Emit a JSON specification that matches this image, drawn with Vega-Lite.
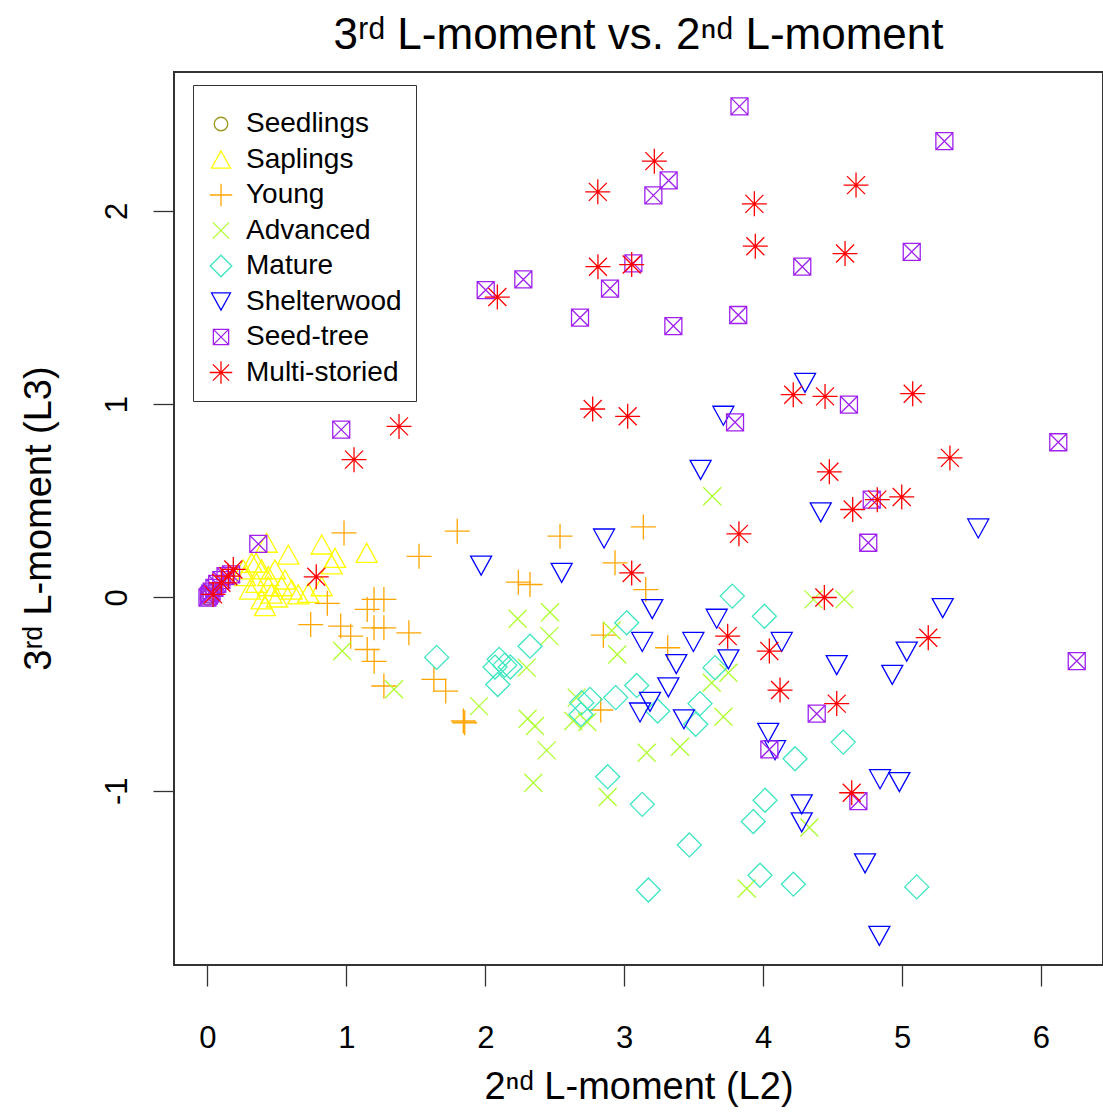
{
  "$schema": "https://vega.github.io/schema/vega-lite/v6.json",
  "width": 929,
  "height": 893,
  "autosize": "none",
  "padding": {"left": 174, "top": 72, "right": 0, "bottom": 150},
  "background": "white",
  "title": {"text": "3ʳᵈ L-moment vs. 2ⁿᵈ L-moment", "fontSize": 44, "font": "Liberation Sans", "fontWeight": "normal", "anchor": "middle", "offset": 14, "color": "black"},
  "config": {
    "view": {"stroke": "#333333", "strokeWidth": 2},
    "font": "Liberation Sans",
    "legend": {"strokeColor": "#333333", "fillColor": "white", "padding": 14, "symbolSize": 324, "symbolStrokeWidth": 1.3, "labelFontSize": 28, "labelColor": "black", "labelOffset": 11, "rowPadding": 7.5, "labelFont": "Liberation Sans", "titleFontSize": 1, "titlePadding": 10}
  },
  "datasets": {
    "pts": [
      {"g": "Seedlings", "x": 0.0, "y": 0.0},
      {"g": "Seedlings", "x": 0.02, "y": 0.01},
      {"g": "Seedlings", "x": 0.04, "y": 0.03},
      {"g": "Saplings", "x": 0.426, "y": 0.283},
      {"g": "Saplings", "x": 0.582, "y": 0.222},
      {"g": "Saplings", "x": 0.822, "y": 0.274},
      {"g": "Saplings", "x": 1.146, "y": 0.231},
      {"g": "Saplings", "x": 0.918, "y": 0.205},
      {"g": "Saplings", "x": 0.894, "y": 0.171},
      {"g": "Saplings", "x": 0.318, "y": 0.179},
      {"g": "Saplings", "x": 0.39, "y": 0.145},
      {"g": "Saplings", "x": 0.486, "y": 0.145},
      {"g": "Saplings", "x": 0.438, "y": 0.11},
      {"g": "Saplings", "x": 0.558, "y": 0.093},
      {"g": "Saplings", "x": 0.354, "y": 0.076},
      {"g": "Saplings", "x": 0.438, "y": 0.058},
      {"g": "Saplings", "x": 0.534, "y": 0.058},
      {"g": "Saplings", "x": 0.606, "y": 0.041},
      {"g": "Saplings", "x": 0.654, "y": 0.016},
      {"g": "Saplings", "x": 0.39, "y": -0.01},
      {"g": "Saplings", "x": 0.414, "y": -0.045},
      {"g": "Saplings", "x": 0.726, "y": 0.024},
      {"g": "Saplings", "x": 0.822, "y": 0.058},
      {"g": "Saplings", "x": 0.27, "y": 0.11},
      {"g": "Saplings", "x": 0.306, "y": 0.041},
      {"g": "Saplings", "x": 0.258, "y": 0.145},
      {"g": "Saplings", "x": 0.5, "y": 0.0},
      {"g": "Saplings", "x": 0.46, "y": 0.02},
      {"g": "Saplings", "x": 0.35, "y": 0.18},
      {"g": "Young", "x": 0.983, "y": 0.334},
      {"g": "Young", "x": 1.798, "y": 0.343},
      {"g": "Young", "x": 1.523, "y": 0.213},
      {"g": "Young", "x": 0.863, "y": -0.03},
      {"g": "Young", "x": 0.743, "y": -0.14},
      {"g": "Young", "x": 0.959, "y": -0.148},
      {"g": "Young", "x": 1.031, "y": -0.2},
      {"g": "Young", "x": 1.15, "y": -0.062},
      {"g": "Young", "x": 1.199, "y": -0.01},
      {"g": "Young", "x": 1.27, "y": -0.01},
      {"g": "Young", "x": 1.199, "y": -0.157},
      {"g": "Young", "x": 1.27, "y": -0.157},
      {"g": "Young", "x": 1.45, "y": -0.183},
      {"g": "Young", "x": 1.15, "y": -0.269},
      {"g": "Young", "x": 1.2, "y": -0.33},
      {"g": "Young", "x": 1.27, "y": -0.458},
      {"g": "Young", "x": 1.63, "y": -0.424},
      {"g": "Young", "x": 1.715, "y": -0.484},
      {"g": "Young", "x": 1.842, "y": -0.639},
      {"g": "Young", "x": 1.852, "y": -0.648},
      {"g": "Young", "x": 2.538, "y": 0.317},
      {"g": "Young", "x": 3.138, "y": 0.365},
      {"g": "Young", "x": 2.934, "y": 0.179},
      {"g": "Young", "x": 2.238, "y": 0.079},
      {"g": "Young", "x": 2.322, "y": 0.067},
      {"g": "Young", "x": 3.155, "y": 0.041},
      {"g": "Young", "x": 2.85, "y": -0.195},
      {"g": "Young", "x": 3.313, "y": -0.26},
      {"g": "Young", "x": 2.831, "y": -0.582},
      {"g": "Advanced", "x": 0.97, "y": -0.277},
      {"g": "Advanced", "x": 1.343, "y": -0.475},
      {"g": "Advanced", "x": 1.955, "y": -0.562},
      {"g": "Advanced", "x": 2.233, "y": -0.11},
      {"g": "Advanced", "x": 2.466, "y": -0.076},
      {"g": "Advanced", "x": 2.461, "y": -0.2},
      {"g": "Advanced", "x": 2.298, "y": -0.363},
      {"g": "Advanced", "x": 2.305, "y": -0.627},
      {"g": "Advanced", "x": 2.358, "y": -0.665},
      {"g": "Advanced", "x": 2.442, "y": -0.791},
      {"g": "Advanced", "x": 2.346, "y": -0.958},
      {"g": "Advanced", "x": 2.658, "y": -0.518},
      {"g": "Advanced", "x": 2.634, "y": -0.639},
      {"g": "Advanced", "x": 2.734, "y": -0.644},
      {"g": "Advanced", "x": 2.91, "y": -0.171},
      {"g": "Advanced", "x": 2.95, "y": -0.295},
      {"g": "Advanced", "x": 3.634, "y": 0.524},
      {"g": "Advanced", "x": 3.63, "y": -0.441},
      {"g": "Advanced", "x": 3.75, "y": -0.389},
      {"g": "Advanced", "x": 3.714, "y": -0.617},
      {"g": "Advanced", "x": 3.402, "y": -0.772},
      {"g": "Advanced", "x": 3.162, "y": -0.803},
      {"g": "Advanced", "x": 2.881, "y": -1.032},
      {"g": "Advanced", "x": 3.882, "y": -1.505},
      {"g": "Advanced", "x": 4.333, "y": -1.19},
      {"g": "Advanced", "x": 4.362, "y": -0.01},
      {"g": "Advanced", "x": 4.585, "y": -0.01},
      {"g": "Mature", "x": 1.65, "y": -0.31},
      {"g": "Mature", "x": 2.1, "y": -0.32},
      {"g": "Mature", "x": 2.14, "y": -0.35},
      {"g": "Mature", "x": 2.07, "y": -0.36},
      {"g": "Mature", "x": 2.09, "y": -0.45},
      {"g": "Mature", "x": 2.18, "y": -0.36},
      {"g": "Mature", "x": 2.322, "y": -0.252},
      {"g": "Mature", "x": 3.018, "y": -0.131},
      {"g": "Mature", "x": 2.694, "y": -0.544},
      {"g": "Mature", "x": 2.754, "y": -0.527},
      {"g": "Mature", "x": 2.689, "y": -0.605},
      {"g": "Mature", "x": 2.939, "y": -0.518},
      {"g": "Mature", "x": 3.09, "y": -0.455},
      {"g": "Mature", "x": 3.241, "y": -0.587},
      {"g": "Mature", "x": 3.515, "y": -0.656},
      {"g": "Mature", "x": 3.546, "y": -0.549},
      {"g": "Mature", "x": 3.654, "y": -0.363},
      {"g": "Mature", "x": 3.778, "y": 0.007},
      {"g": "Mature", "x": 4.009, "y": -0.097},
      {"g": "Mature", "x": 2.881, "y": -0.927},
      {"g": "Mature", "x": 3.13, "y": -1.07},
      {"g": "Mature", "x": 4.014, "y": -1.049},
      {"g": "Mature", "x": 3.929, "y": -1.159},
      {"g": "Mature", "x": 3.469, "y": -1.28},
      {"g": "Mature", "x": 3.978, "y": -1.437},
      {"g": "Mature", "x": 3.174, "y": -1.513},
      {"g": "Mature", "x": 4.218, "y": -1.483},
      {"g": "Mature", "x": 5.106, "y": -1.497},
      {"g": "Mature", "x": 4.577, "y": -0.748},
      {"g": "Mature", "x": 4.23, "y": -0.834},
      {"g": "Shelterwood", "x": 1.97, "y": 0.165},
      {"g": "Shelterwood", "x": 2.55, "y": 0.127},
      {"g": "Shelterwood", "x": 2.855, "y": 0.305},
      {"g": "Shelterwood", "x": 4.302, "y": 1.11},
      {"g": "Shelterwood", "x": 3.714, "y": 0.94},
      {"g": "Shelterwood", "x": 3.55, "y": 0.66},
      {"g": "Shelterwood", "x": 4.415, "y": 0.44},
      {"g": "Shelterwood", "x": 5.549, "y": 0.357},
      {"g": "Shelterwood", "x": 3.202, "y": -0.06},
      {"g": "Shelterwood", "x": 3.13, "y": -0.23},
      {"g": "Shelterwood", "x": 3.375, "y": -0.345},
      {"g": "Shelterwood", "x": 3.498, "y": -0.23},
      {"g": "Shelterwood", "x": 3.666, "y": -0.11},
      {"g": "Shelterwood", "x": 3.75, "y": -0.32},
      {"g": "Shelterwood", "x": 4.134, "y": -0.23},
      {"g": "Shelterwood", "x": 5.293, "y": -0.055},
      {"g": "Shelterwood", "x": 5.034, "y": -0.28},
      {"g": "Shelterwood", "x": 4.53, "y": -0.35},
      {"g": "Shelterwood", "x": 4.93, "y": -0.4},
      {"g": "Shelterwood", "x": 3.318, "y": -0.465},
      {"g": "Shelterwood", "x": 3.186, "y": -0.54},
      {"g": "Shelterwood", "x": 3.114, "y": -0.595},
      {"g": "Shelterwood", "x": 3.43, "y": -0.63},
      {"g": "Shelterwood", "x": 4.037, "y": -0.7},
      {"g": "Shelterwood", "x": 4.086, "y": -0.79},
      {"g": "Shelterwood", "x": 4.842, "y": -0.94},
      {"g": "Shelterwood", "x": 4.981, "y": -0.955},
      {"g": "Shelterwood", "x": 4.278, "y": -1.07},
      {"g": "Shelterwood", "x": 4.278, "y": -1.163},
      {"g": "Shelterwood", "x": 4.734, "y": -1.375},
      {"g": "Shelterwood", "x": 4.837, "y": -1.75},
      {"g": "Seed-tree", "x": 3.83, "y": 2.54},
      {"g": "Seed-tree", "x": 5.305, "y": 2.36},
      {"g": "Seed-tree", "x": 3.32, "y": 2.157},
      {"g": "Seed-tree", "x": 3.21, "y": 2.08},
      {"g": "Seed-tree", "x": 2.003, "y": 1.59},
      {"g": "Seed-tree", "x": 2.274, "y": 1.645},
      {"g": "Seed-tree", "x": 3.066, "y": 1.728},
      {"g": "Seed-tree", "x": 2.898, "y": 1.598},
      {"g": "Seed-tree", "x": 2.682, "y": 1.447},
      {"g": "Seed-tree", "x": 3.354, "y": 1.404},
      {"g": "Seed-tree", "x": 3.821, "y": 1.461},
      {"g": "Seed-tree", "x": 5.07, "y": 1.788},
      {"g": "Seed-tree", "x": 4.282, "y": 1.711},
      {"g": "Seed-tree", "x": 0.963, "y": 0.868},
      {"g": "Seed-tree", "x": 3.798, "y": 0.906},
      {"g": "Seed-tree", "x": 4.618, "y": 0.997},
      {"g": "Seed-tree", "x": 6.125, "y": 0.803},
      {"g": "Seed-tree", "x": 4.782, "y": 0.506},
      {"g": "Seed-tree", "x": 4.757, "y": 0.283},
      {"g": "Seed-tree", "x": 0.366, "y": 0.277},
      {"g": "Seed-tree", "x": 6.258, "y": -0.329},
      {"g": "Seed-tree", "x": 4.386, "y": -0.601},
      {"g": "Seed-tree", "x": 4.045, "y": -0.786},
      {"g": "Seed-tree", "x": 4.686, "y": -1.053},
      {"g": "Seed-tree", "x": 0.0, "y": 0.0},
      {"g": "Seed-tree", "x": 0.01, "y": 0.01},
      {"g": "Seed-tree", "x": 0.02, "y": 0.02},
      {"g": "Seed-tree", "x": 0.03, "y": 0.03},
      {"g": "Seed-tree", "x": 0.05, "y": 0.05},
      {"g": "Seed-tree", "x": 0.07, "y": 0.07},
      {"g": "Seed-tree", "x": 0.1, "y": 0.09},
      {"g": "Seed-tree", "x": 0.13, "y": 0.11},
      {"g": "Seed-tree", "x": 0.17, "y": 0.12},
      {"g": "Multi-storied", "x": 3.217, "y": 2.257},
      {"g": "Multi-storied", "x": 2.81, "y": 2.098},
      {"g": "Multi-storied", "x": 3.937, "y": 2.036},
      {"g": "Multi-storied", "x": 4.669, "y": 2.133},
      {"g": "Multi-storied", "x": 3.944, "y": 1.817},
      {"g": "Multi-storied", "x": 4.59, "y": 1.779},
      {"g": "Multi-storied", "x": 2.087, "y": 1.554},
      {"g": "Multi-storied", "x": 2.811, "y": 1.711},
      {"g": "Multi-storied", "x": 3.054, "y": 1.722},
      {"g": "Multi-storied", "x": 1.379, "y": 0.885},
      {"g": "Multi-storied", "x": 1.055, "y": 0.713},
      {"g": "Multi-storied", "x": 2.773, "y": 0.975},
      {"g": "Multi-storied", "x": 3.025, "y": 0.937},
      {"g": "Multi-storied", "x": 4.217, "y": 1.049},
      {"g": "Multi-storied", "x": 4.446, "y": 1.04},
      {"g": "Multi-storied", "x": 5.077, "y": 1.054},
      {"g": "Multi-storied", "x": 4.477, "y": 0.65},
      {"g": "Multi-storied", "x": 5.345, "y": 0.722},
      {"g": "Multi-storied", "x": 4.822, "y": 0.506},
      {"g": "Multi-storied", "x": 4.998, "y": 0.52},
      {"g": "Multi-storied", "x": 4.645, "y": 0.455},
      {"g": "Multi-storied", "x": 3.826, "y": 0.329},
      {"g": "Multi-storied", "x": 3.054, "y": 0.127},
      {"g": "Multi-storied", "x": 0.783, "y": 0.107},
      {"g": "Multi-storied", "x": 4.441, "y": 0.0},
      {"g": "Multi-storied", "x": 5.189, "y": -0.208},
      {"g": "Multi-storied", "x": 3.745, "y": -0.2},
      {"g": "Multi-storied", "x": 4.045, "y": -0.277},
      {"g": "Multi-storied", "x": 4.122, "y": -0.479},
      {"g": "Multi-storied", "x": 4.53, "y": -0.549},
      {"g": "Multi-storied", "x": 4.638, "y": -1.01},
      {"g": "Multi-storied", "x": 0.04, "y": 0.016},
      {"g": "Multi-storied", "x": 0.1, "y": 0.076},
      {"g": "Multi-storied", "x": 0.15, "y": 0.11},
      {"g": "Multi-storied", "x": 0.186, "y": 0.145}
    ]
  },
  "layer": [
    {
      "data": {"name": "pts"},
      "mark": {"type": "point", "filled": false, "strokeWidth": 1.3, "size": 400, "opacity": 1},
      "encoding": {
        "x": {"field": "x", "type": "quantitative", "scale": {"domain": [-0.241, 6.447], "nice": false, "zero": false},
          "axis": {"values": [0, 1, 2, 3, 4, 5, 6], "labelExpr": "'' + datum.value", "domain": false, "grid": false, "tickSize": 21, "tickColor": "#333333", "tickWidth": 1.3, "labelFontSize": 31, "labelColor": "black", "labelPadding": 37, "labelFont": "Liberation Sans", "title": "2ⁿᵈ L-moment (L2)", "titleFontSize": 38, "titleFontWeight": "normal", "titleColor": "black", "titleFont": "Liberation Sans", "titleY": 133, "titleBaseline": "alphabetic"}},
        "y": {"field": "y", "type": "quantitative", "scale": {"domain": [-1.901, 2.718], "nice": false, "zero": false},
          "axis": {"values": [-1, 0, 1, 2], "labelExpr": "'' + datum.value", "domain": false, "grid": false, "tickSize": 21, "tickColor": "#333333", "tickWidth": 1.3, "labelFontSize": 31, "labelColor": "black", "labelPadding": 27, "labelAngle": -90, "labelAlign": "center", "labelBaseline": "alphabetic", "labelFont": "Liberation Sans", "title": "3ʳᵈ L-moment (L3)", "titleFontSize": 38, "titleFontWeight": "normal", "titleColor": "black", "titleFont": "Liberation Sans", "titleX": -124, "titleY": 446, "titleAngle": -90, "titleAlign": "center", "titleBaseline": "alphabetic"}},
        "color": {"field": "g", "type": "nominal",
          "scale": {"domain": ["Seedlings", "Saplings", "Young", "Advanced", "Mature", "Shelterwood", "Seed-tree", "Multi-storied"],
            "range": ["#999922", "#FFFF00", "#FFA500", "#ADFF2F", "#3CE6C0", "#0000FF", "#A020F0", "#FF0000"]},
          "legend": {"title": " ", "orient": "none", "legendX": 19, "legendY": 13}},
        "shape": {"field": "g", "type": "nominal",
          "scale": {"domain": ["Seedlings", "Saplings", "Young", "Advanced", "Mature", "Shelterwood", "Seed-tree", "Multi-storied"],
            "range": [
              "M0.75,0A0.75,0.75 0 1,1 -0.75,0A0.75,0.75 0 1,1 0.75,0Z",
              "M0,-0.95L1.05,0.95L-1.05,0.95Z",
              "M-1.25,0L1.25,0M0,-1.25L0,1.25",
              "M-0.9,-0.9L0.9,0.9M-0.9,0.9L0.9,-0.9",
              "M0,-1.2L1.2,0L0,1.2L-1.2,0Z",
              "M-1.05,-0.95L1.05,-0.95L0,0.95Z",
              "M-0.85,-0.85L0.85,-0.85L0.85,0.85L-0.85,0.85ZM-0.85,-0.85L0.85,0.85M-0.85,0.85L0.85,-0.85",
              "M-1.25,0L1.25,0M0,-1.25L0,1.25M-0.9,-0.9L0.9,0.9M-0.9,0.9L0.9,-0.9"
            ]},
          "legend": {"title": " ", "orient": "none", "legendX": 19, "legendY": 13}}
      }
    },
    {
      "mark": {"type": "rule", "strokeDash": [10, 6], "color": "#222222", "strokeWidth": 1.8},
      "encoding": {"y": {"datum": 0, "type": "quantitative", "scale": {"domain": [-1.901, 2.718], "nice": false, "zero": false}}}
    }
  ]
}
